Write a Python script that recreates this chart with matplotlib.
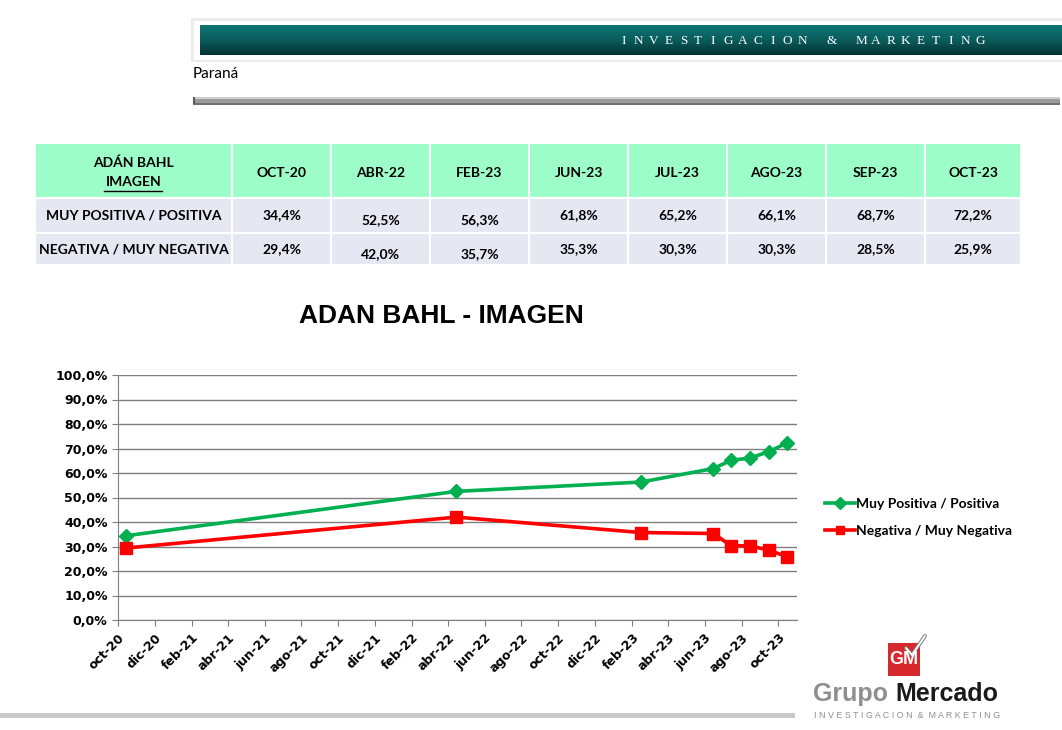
import numpy as np
import pandas as pd
import matplotlib
matplotlib.use("Agg")
import matplotlib.pyplot as plt
from matplotlib.patches import Rectangle
from matplotlib.colors import LinearSegmentedColormap
from matplotlib.ticker import FuncFormatter

# ---------------- data ----------------
fechas = ["2020-10-15", "2022-04-15", "2023-02-15", "2023-06-15",
          "2023-07-15", "2023-08-15", "2023-09-15", "2023-10-15"]
positiva = [34.4, 52.5, 56.3, 61.8, 65.2, 66.1, 68.7, 72.2]
negativa = [29.4, 42.0, 35.7, 35.3, 30.3, 30.3, 28.5, 25.9]

col_labels = ["OCT-20", "ABR-22", "FEB-23", "JUN-23", "JUL-23", "AGO-23", "SEP-23", "OCT-23"]
row_labels = ["MUY POSITIVA / POSITIVA", "NEGATIVA / MUY NEGATIVA"]
serie_names = ["Muy Positiva / Positiva", "Negativa / Muy Negativa"]

xtick_labels = ["oct-20", "dic-20", "feb-21", "abr-21", "jun-21", "ago-21", "oct-21",
                "dic-21", "feb-22", "abr-22", "jun-22", "ago-22", "oct-22", "dic-22",
                "feb-23", "abr-23", "jun-23", "ago-23", "oct-23"]

W, H = 1062, 730
fig = plt.figure(figsize=(W / 100, H / 100), dpi=100, facecolor="white")

# overlay axes in pixel coords for the page decoration and the table
bg = fig.add_axes([0, 0, 1, 1])
bg.set_xlim(0, W)
bg.set_ylim(H, 0)
bg.axis("off")

calibri = ["Lato", "DejaVu Sans"]

# header banner
bg.add_patch(Rectangle((191, 18), 880, 44, facecolor="#ececec", edgecolor="none"))
bg.add_patch(Rectangle((194, 21), 880, 39, facecolor="white", edgecolor="none"))
grad = np.linspace(0, 1, 50).reshape(-1, 1)
teal = LinearSegmentedColormap.from_list("teal", ["#0e7575", "#0b5c5c", "#043333"])
bg.imshow(grad, cmap=teal, extent=(200, W, 55, 25), aspect="auto", zorder=2)
banner = "INVESTIGACION & MARKETING"
step = (980 - 624) / (len(banner) - 1)
for i, ch in enumerate(banner):
    bg.text(624 + i * step, 41, ch, color="white", fontsize=9.5,
            family="Liberation Serif", ha="center", va="center", zorder=3)
bg.text(193, 74, "Paraná", fontsize=11, family=calibri, ha="left", va="center")
bg.add_patch(Rectangle((193, 97), 867, 7, facecolor="#9a9a9a", edgecolor="none"))
bg.add_patch(Rectangle((193, 97), 867, 2, facecolor="#cfcfcf", edgecolor="none"))
bg.add_patch(Rectangle((193, 103), 867, 1.5, facecolor="#6e6e6e", edgecolor="none"))
bg.add_patch(Rectangle((193, 97), 2, 7, facecolor="#5a5a5a", edgecolor="none"))

# table
col_edges = [35, 232, 331, 430, 529, 628, 727, 826, 925, 1021]
row_edges = [143, 198, 233, 265]
bottom_cols = {1, 2}   # those cells sit a little lower in the original
head_bg = "#9cfdc9"
body_bg = "#e5e8f3"
tsize = 10
for r in range(3):
    for c in range(len(col_edges) - 1):
        x0, x1 = col_edges[c], col_edges[c + 1]
        y0, y1 = row_edges[r], row_edges[r + 1]
        bg.add_patch(Rectangle((x0, y0), x1 - x0, y1 - y0,
                               facecolor=head_bg if r == 0 else body_bg,
                               edgecolor="white", linewidth=1.5))
bg.text((col_edges[0] + col_edges[1]) / 2, 163, "ADÁN BAHL", fontsize=tsize,
        fontweight="bold", family=calibri, ha="center", va="center")
bg.text((col_edges[0] + col_edges[1]) / 2, 182, "IMAGEN", fontsize=tsize,
        fontweight="bold", family=calibri, ha="center", va="center")
bg.plot([104, 162], [190.5, 190.5], color="black", lw=1)
for c, lab in enumerate(col_labels):
    cx = (col_edges[c + 1] + col_edges[c + 2]) / 2
    bg.text(cx, 173, lab, fontsize=tsize, fontweight="bold", family=calibri,
            ha="center", va="center")
for r, (lab, vals) in enumerate(zip(row_labels, [positiva, negativa])):
    y0, y1 = row_edges[r + 1], row_edges[r + 2]
    cy = (y0 + y1) / 2
    bg.text((col_edges[0] + col_edges[1]) / 2, cy, lab, fontsize=tsize,
            fontweight="bold", family=calibri, ha="center", va="center")
    for c, v in enumerate(vals):
        cx = (col_edges[c + 1] + col_edges[c + 2]) / 2
        yy = cy + 5 if c in bottom_cols else cy
        bg.text(cx, yy, f"{v:.1f}%".replace(".", ","), fontsize=tsize,
                fontweight="bold", family=calibri, ha="center", va="center")

# chart title
bg.text(441, 316, "ADAN BAHL - IMAGEN", fontsize=19, fontweight="bold",
        family="Liberation Sans", ha="center", va="center")

# bottom line and logo
bg.add_patch(Rectangle((0, 713), 795, 5, facecolor="#c9c9c9", edgecolor="none"))
bg.add_patch(Rectangle((888, 643), 32, 33, facecolor="#d7282d", edgecolor="none"))
bg.text(904, 660, "GM", color="white", fontsize=13, fontweight="bold",
        family="Liberation Sans", ha="center", va="center")
bg.plot([906, 912, 925], [648, 655, 636], color="#7a7a7a", lw=2.8, solid_capstyle="round")
bg.plot([906, 912, 925], [648, 655, 636], color="white", lw=1.4, solid_capstyle="round")
bg.text(888, 694, "Grupo", color="#8e8e8e", fontsize=18, fontweight="bold",
        family="Liberation Sans", ha="right", va="center")
bg.text(895, 694, "Mercado", color="#1a1a1a", fontsize=18, fontweight="bold",
        family="Liberation Sans", ha="left", va="center")
bg.text(907, 715, "I N V E S T I G A C I O N  &  M A R K E T I N G", color="#8e8e8e",
        fontsize=6.4, family="Liberation Sans", ha="center", va="center")

# ---------------- chart ----------------
left, right, top, bottom = 118, 797, 375, 620
ax = fig.add_axes([left / W, (H - bottom) / H, (right - left) / W, (bottom - top) / H])
ax.set_facecolor("none")

x = pd.to_datetime(fechas)
ax.plot(x, positiva, color="#00b050", lw=2.6, marker="D", markersize=7.5,
        label=serie_names[0], zorder=3)
ax.plot(x, negativa, color="#ff0000", lw=2.6, marker="s", markersize=8.5,
        label=serie_names[1], zorder=3)

ax.set_ylim(0, 100)
ax.set_yticks(np.arange(0, 101, 10))
ax.yaxis.set_major_formatter(FuncFormatter(lambda v, p: f"{v:.1f}%".replace(".", ",")))
ax.set_xlim(pd.Timestamp("2020-10-01"), pd.Timestamp("2023-11-01"))
ticks = pd.date_range("2020-10-01", "2023-10-01", freq="2MS")
ax.set_xticks(ticks)
ax.set_xticklabels(xtick_labels, rotation=45, ha="right", rotation_mode="anchor")
ax.grid(axis="y", color="#7f7f7f", lw=1)
ax.set_axisbelow(True)
for s in ["top", "right"]:
    ax.spines[s].set_visible(False)
for s in ["left", "bottom"]:
    ax.spines[s].set_color("#7f7f7f")
ax.tick_params(axis="both", colors="#7f7f7f", length=4, labelcolor="black")
ax.tick_params(axis="x", pad=4)
for lab in ax.get_yticklabels():
    lab.set_fontweight("bold")
    lab.set_fontsize(9)
    lab.set_family("DejaVu Sans")
for lab in ax.get_xticklabels():
    lab.set_fontweight("bold")
    lab.set_fontsize(9)
    lab.set_family("DejaVu Sans")

leg = ax.legend(loc="center left", bbox_to_anchor=((812 - left) / (right - left), 0.418),
                frameon=False, handlelength=2.2, handletextpad=0.1, labelspacing=1.05,
                prop={"family": calibri, "weight": "bold", "size": 10})
for h in leg.legend_handles:
    h.set_markersize(6)

fig.savefig("out.png", dpi=100, facecolor="white")
